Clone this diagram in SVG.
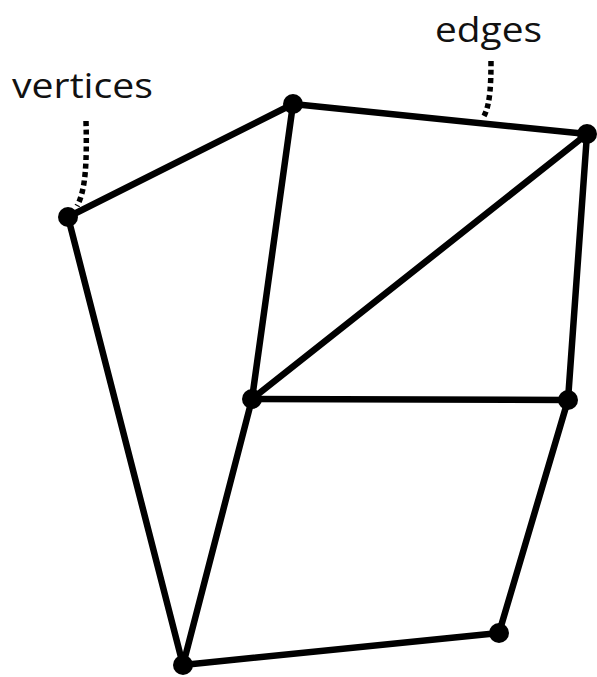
<svg xmlns="http://www.w3.org/2000/svg" width="597" height="677" viewBox="0 0 597 677">
<style>
.e{stroke:#000;stroke-width:6.5;stroke-linecap:round;fill:none}
.v{fill:#000}
.lbl{font-family:"Open Sans","Liberation Sans",sans-serif;font-size:34px;fill:#111}
.dot{stroke:#000;stroke-width:5.5;stroke-dasharray:5 3.5;fill:none}
</style>
<rect width="597" height="677" fill="#fff"/>
<g id="connectors">
<line class="e" x1="68" y1="217" x2="293" y2="104"/>
<line class="e" x1="293" y1="104" x2="587" y2="134"/>
<line class="e" x1="293" y1="104" x2="252" y2="399"/>
<line class="e" x1="587" y1="134" x2="252" y2="399"/>
<line class="e" x1="587" y1="134" x2="568" y2="400"/>
<line class="e" x1="252" y1="399" x2="568" y2="400"/>
<line class="e" x1="68" y1="217" x2="183" y2="665"/>
<line class="e" x1="252" y1="399" x2="183" y2="665"/>
<line class="e" x1="568" y1="400" x2="499" y2="633"/>
<line class="e" x1="183" y1="665" x2="499" y2="633"/>
<path class="dot" d="M86,121 C87,160 86,190 77,206"/>
<path class="dot" d="M491,61 C491,85 490,105 484,116"/>
</g>
<g id="A"><circle class="v" cx="68" cy="217" r="10"/></g>
<g id="B"><circle class="v" cx="293" cy="104" r="10"/></g>
<g id="C"><circle class="v" cx="587" cy="134" r="10"/></g>
<g id="D"><circle class="v" cx="252" cy="399" r="10"/></g>
<g id="E"><circle class="v" cx="568" cy="400" r="10"/></g>
<g id="F"><circle class="v" cx="183" cy="665" r="10"/></g>
<g id="G"><circle class="v" cx="499" cy="633" r="10"/></g>
<g id="labels">
<text class="lbl" x="12" y="98" textLength="141" lengthAdjust="spacingAndGlyphs">vertices</text>
<text class="lbl" x="435" y="42" textLength="107" lengthAdjust="spacingAndGlyphs">edges</text>
</g>
</svg>
